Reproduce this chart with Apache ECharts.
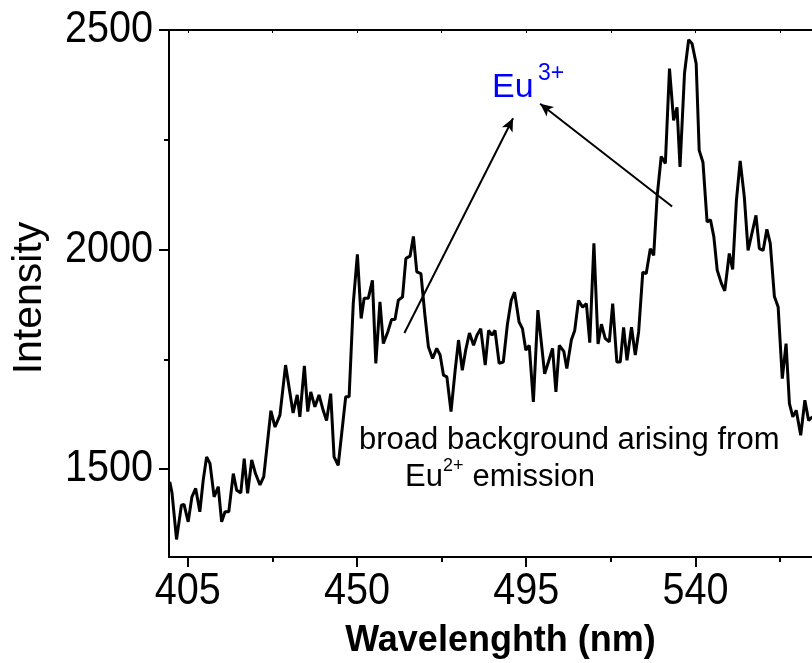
<!DOCTYPE html>
<html>
<head>
<meta charset="utf-8">
<script src="https://cdn.jsdelivr.net/npm/echarts@6/dist/echarts.min.js"></script>
<style>
  html, body { margin: 0; padding: 0; background: #fff; }
  #chart { width: 812px; height: 663px; }
</style>
</head>
<body>
<div id="chart"></div>
<script>
// wavelength (nm) and intensity
const wavelength = [
  400.2, 400.8, 402.0, 403.3, 404.0, 405.1, 406.1, 407.1, 408.2, 409.1,
  410.0, 410.9, 412.0, 413.1, 414.0, 414.9, 415.9, 417.1, 418.0, 419.1,
  420.0, 420.9, 422.0, 423.0, 424.2, 425.2, 427.1, 428.2, 429.5, 431.0,
  433.0, 434.1, 434.8, 436.0, 436.9, 437.7, 438.8, 439.9, 441.0, 441.9,
  443.0, 443.9, 445.0, 447.0, 447.9, 449.0, 450.1, 451.1, 451.9, 453.0,
  454.1, 455.0, 456.1, 457.0, 458.2, 459.2, 460.1, 461.0, 462.1, 463.0,
  464.1, 465.0, 465.9, 467.0, 468.1, 469.0, 470.1, 471.2, 472.1, 473.0,
  473.9, 475.0, 476.1, 477.0, 478.0, 478.9, 479.9, 481.0, 481.9, 482.9,
  484.1, 485.0, 485.9, 486.7, 487.8, 488.9, 490.0, 491.0, 491.9, 493.1,
  494.0, 494.9, 495.8, 496.9, 498.1, 499.0, 499.9, 500.9, 502.0, 502.9,
  503.8, 505.0, 505.8, 507.0, 507.9, 508.9, 510.0, 511.0, 511.9, 513.0,
  514.1, 515.0, 516.0, 517.1, 518.0, 519.1, 520.0, 520.9, 521.8, 523.0,
  524.0, 524.9, 526.0, 526.9, 528.0, 528.9, 529.8, 530.9, 532.0, 533.1,
  534.2, 535.1, 535.9, 537.1, 538.2, 539.1, 540.2, 541.0, 542.0, 543.1,
  544.0, 544.9, 545.8, 546.9, 547.8, 549.0, 549.9, 550.9, 551.9, 553.0,
  554.0, 555.0, 556.1, 557.0, 558.0, 559.0, 559.9, 561.0, 562.0, 563.1,
  564.1, 565.0, 565.9, 566.8, 568.0, 569.1, 570.1, 571.1
]
const intensity = [
  1471, 1446, 1340, 1418, 1420, 1380, 1437, 1456, 1403, 1475,
  1528, 1513, 1437, 1460, 1380, 1403, 1403, 1490, 1452, 1446,
  1524, 1445, 1521, 1490, 1464, 1483, 1633, 1596, 1623, 1737,
  1628, 1669, 1619, 1735, 1631, 1676, 1642, 1669, 1634, 1611,
  1672, 1528, 1509, 1665, 1665, 1877, 1989, 1843, 1889, 1889,
  1930, 1741, 1881, 1786, 1813, 1841, 1841, 1885, 1892, 1980,
  1985, 2030, 1949, 1945, 1847, 1778, 1752, 1775, 1760, 1714,
  1710, 1631, 1725, 1794, 1725, 1771, 1810, 1782, 1805, 1820,
  1737, 1816, 1805, 1816, 1741, 1744, 1830, 1884, 1903, 1835,
  1820, 1771, 1782, 1653, 1862, 1790, 1717, 1744, 1775, 1676,
  1782, 1768, 1729, 1794, 1816, 1884, 1869, 1877, 1788, 2014,
  1785, 1830, 1798, 1790, 1877, 1744, 1744, 1823, 1748, 1823,
  1760, 1813, 1949, 1945, 2002, 1987, 2120, 2212, 2196, 2412,
  2294, 2324, 2188, 2402, 2478, 2469, 2423, 2226, 2199, 2063,
  2068, 2029, 1953, 1923, 1906, 1991, 1955, 2112, 2202, 2120,
  1998, 2036, 2078, 2002, 1998, 2046, 2014, 1893, 1869, 1706,
  1786, 1649, 1619, 1634, 1577, 1657, 1611, 1619
]

const xMajorTicks = [405, 450, 495, 540]
const xMinorTicks = [427.5, 472.5, 517.5, 562.5]
const yMajorTicks = [1500, 2000, 2500]
const yMinorTicks = [1750, 2250]

// arrows: [from, to] in data units
const arrowA = [[462.6, 1810], [491.5, 2299]]
const arrowB = [[533.8, 2098], [498.7, 2332]]

const textFont = 'Liberation Sans, Arial, sans-serif'

let chart = echarts.init(document.getElementById('chart'))

let points = wavelength.map(function (w, i) { return [w, intensity[i]] })

// annotation texts and the y title
let notes = [
  { type: 'text', left: 492, top: 71, style: { text: 'Eu', fill: '#0000ff', fontFamily: textFont, fontSize: 34 } },
  { type: 'text', left: 538, top: 62, style: { text: '3+', fill: '#0000ff', fontFamily: textFont, fontSize: 23 } },
  { type: 'text', left: 359, top: 425, style: { text: 'broad background arising from', fill: '#000', fontFamily: textFont, fontSize: 31 } },
  { type: 'text', left: 405, top: 462, style: { text: 'Eu', fill: '#000', fontFamily: textFont, fontSize: 31 } },
  { type: 'text', left: 443, top: 457, style: { text: '2+', fill: '#000', fontFamily: textFont, fontSize: 18 } },
  { type: 'text', left: 464, top: 462, style: { text: ' emission', fill: '#000', fontFamily: textFont, fontSize: 31 } },
  {
    type: 'text',
    x: 30,
    y: 298,
    rotation: Math.PI / 2,
    style: { text: 'Intensity', fill: '#000', fontFamily: textFont, fontSize: 41, align: 'center', verticalAlign: 'middle' }
  }
]

let option = {
  animation: false,
  backgroundColor: '#fff',
  grid: {
    left: 169,
    right: 0,
    top: 30,
    bottom: 106,
    containLabel: false,
    outerBoundsMode: 'none'
  },
  xAxis: [
    {
      type: 'value',
      min: 400,
      max: 571,
      name: 'Wavelenghth (nm)',
      nameLocation: 'middle',
      nameGap: 66,
      nameTextStyle: {
        fontFamily: textFont,
        fontWeight: 'bold',
        fontSize: 36,
        color: '#000',
        padding: [0, 0, 0, 20]
      },
      axisLine: { lineStyle: { color: '#000', width: 2 } },
      axisTick: { customValues: xMajorTicks, length: 10, lineStyle: { color: '#000', width: 2 } },
      axisLabel: { show: false },
      splitLine: { show: false }
    },
    {
      type: 'value',
      min: 400,
      max: 571,
      position: 'bottom',
      axisLine: { show: false },
      axisTick: { customValues: xMinorTicks, length: 5, lineStyle: { color: '#000', width: 2 } },
      axisLabel: { show: false },
      splitLine: { show: false }
    },
    {
      type: 'value',
      min: 400,
      max: 571,
      position: 'top',
      axisLine: { lineStyle: { color: '#000', width: 2 } },
      axisTick: {
        inside: true,
        customValues: xMajorTicks.concat(xMinorTicks),
        length: 3,
        lineStyle: { color: '#000', width: 1 }
      },
      axisLabel: { show: false },
      splitLine: { show: false }
    }
  ],
  yAxis: [
    {
      type: 'value',
      min: 1300,
      max: 2500,
      axisLine: { lineStyle: { color: '#000', width: 2 } },
      axisTick: { customValues: yMajorTicks, length: 10, lineStyle: { color: '#000', width: 2 } },
      axisLabel: { show: false },
      splitLine: { show: false }
    },
    {
      type: 'value',
      min: 1300,
      max: 2500,
      position: 'left',
      axisLine: { show: false },
      axisTick: { customValues: yMinorTicks, length: 5, lineStyle: { color: '#000', width: 2 } },
      axisLabel: { show: false },
      splitLine: { show: false }
    }
  ],
  graphic: notes,
  series: [
    {
      type: 'line',
      data: points,
      showSymbol: false,
      clip: true,
      lineStyle: { color: '#000', width: 3 },
      markLine: {
        silent: true,
        symbol: ['none', 'arrow'],
        symbolSize: [9, 13],
        label: { show: false },
        lineStyle: { color: '#000', width: 2, type: 'solid' },
        data: [
          [{ coord: arrowA[0] }, { coord: arrowA[1] }],
          [{ coord: arrowB[0] }, { coord: arrowB[1] }]
        ]
      }
    }
  ]
}

chart.setOption(option)

// tick labels in a narrowed font, placed through the axis scales
let tickLabels = []
xMajorTicks.forEach(function (v) {
  tickLabels.push({
    type: 'text',
    x: chart.convertToPixel({ xAxisIndex: 0 }, v),
    y: 570,
    scaleX: 0.9,
    style: { text: String(v), fill: '#000', fontFamily: textFont, fontSize: 44, align: 'center', verticalAlign: 'top' }
  })
})
yMajorTicks.forEach(function (v) {
  tickLabels.push({
    type: 'text',
    x: 153,
    y: chart.convertToPixel({ yAxisIndex: 0 }, v),
    scaleX: 0.9,
    style: { text: String(v), fill: '#000', fontFamily: textFont, fontSize: 44, align: 'right', verticalAlign: 'middle' }
  })
})

chart.setOption({ graphic: notes.concat(tickLabels) })
</script>
</body>
</html>
